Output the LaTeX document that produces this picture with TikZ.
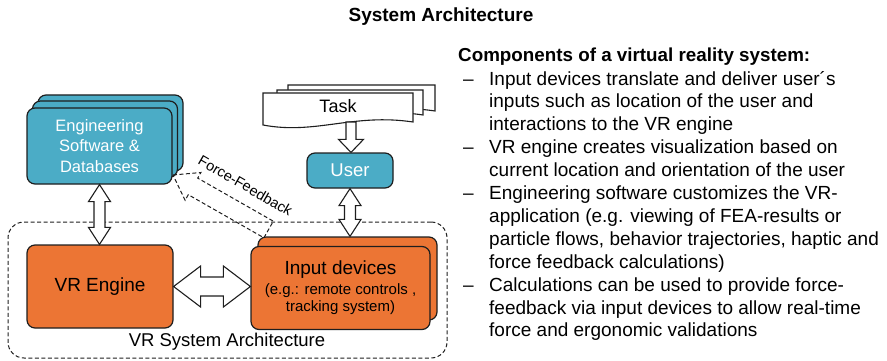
\documentclass[tikz,border=0pt]{standalone}
\usepackage{fontspec}
\setmainfont{Liberation Sans}
\usetikzlibrary{calc}
\definecolor{tealc}{RGB}{75,172,198}
\definecolor{orangec}{RGB}{236,117,52}
\definecolor{edgec}{RGB}{30,30,30}
\newcommand{\vdarrow}[5]{%
\draw[blockarrow] let \p1=(#1), \p2=(#2) in
 (\x1,\y1) -- (\x1+#3pt,\y1-#5pt) -- (\x1+#4pt,\y1-#5pt) -- (\x1+#4pt,\y2+#5pt)
 -- (\x1+#3pt,\y2+#5pt) -- (\x1,\y2) -- (\x1-#3pt,\y2+#5pt) -- (\x1-#4pt,\y2+#5pt)
 -- (\x1-#4pt,\y1-#5pt) -- (\x1-#3pt,\y1-#5pt) -- cycle;}
\newcommand{\hdarrow}[5]{%
\draw[blockarrow] let \p1=(#1), \p2=(#2) in
 (\x1,\y1) -- (\x1+#5pt,\y1+#3pt) -- (\x1+#5pt,\y1+#4pt) -- (\x2-#5pt,\y1+#4pt)
 -- (\x2-#5pt,\y1+#3pt) -- (\x2,\y1) -- (\x2-#5pt,\y1-#3pt) -- (\x2-#5pt,\y1-#4pt)
 -- (\x1+#5pt,\y1-#4pt) -- (\x1+#5pt,\y1-#3pt) -- cycle;}
\newcommand{\docshape}[4]{%
\draw[docstyle] (#1,#2) -- (#3,#2) -- (#3,#4-3)
 .. controls (#3-0.4*#3+0.4*#1,#4-12) and (#1+0.35*#3-0.35*#1,#4+10) .. (#1,#4) -- cycle;}
\newcommand{\linesblock}[1]{\renewcommand{\arraystretch}{1}\begin{tabular}[t]{@{}l@{}}#1\end{tabular}}
\begin{document}
\begin{tikzpicture}[x=1pt,y=-1pt,
  boxbase/.style={draw=edgec, line width=1.2pt, rounded corners=8pt, inner sep=0pt},
  tealbox/.style={boxbase, fill=tealc, text=white},
  orangebox/.style={boxbase, fill=orangec, text=black},
  blockarrow/.style={draw=edgec, fill=white, line width=1.1pt, line join=miter},
  docstyle/.style={draw=edgec, fill=white, line width=1.1pt},
  sysbox/.style={draw=edgec, dashed, dash pattern=on 4pt off 2.5pt, line width=1pt, rounded corners=16pt, inner sep=0pt},
  ffarrow/.style={draw=edgec, dashed, dash pattern=on 4pt off 2.5pt, line width=1pt, line join=miter},
  bodytext/.style={font=\fontsize{19}{22.9}\selectfont, inner sep=0pt, anchor=base west}]
\useasboundingbox (0,0) rectangle (887,361);

% title
\node[font=\bfseries\fontsize{19}{22}\selectfont, inner sep=0pt, anchor=base] (title) at (441,22) {System Architecture};

% system border
\node[sysbox, minimum width=439, minimum height=136] (sys) at (227.5,290) {};
\node[font=\fontsize{18.5}{20}\selectfont, inner sep=0pt] (syslabel) at (227,342) {VR System Architecture};

% engineering stack
\node[tealbox, minimum width=145, minimum height=76] (eng3) at (110.5,133) {};
\node[tealbox, minimum width=145, minimum height=76] (eng2) at (105,139) {};
\node[tealbox, minimum width=145, minimum height=76, align=center,
  font=\fontsize{16.5}{20.5}\selectfont] (eng) at (99.5,146) {Engineering\\Software \&\\Databases};

% VR engine
\node[orangebox, minimum width=146, minimum height=83, font=\fontsize{19}{22}\selectfont] (vr) at (100,286.5) {VR Engine};

% input devices stack
\node[orangebox, minimum width=179, minimum height=83] (inp2) at (347.5,278.5) {};
\node[orangebox, minimum width=179, minimum height=83, align=center, font=\fontsize{15}{17}\selectfont] (inp) at (340.5,288)
 {{\fontsize{19}{21}\selectfont Input devices}\\[3pt](e.g.: remote controls ,\\tracking system)};

% task stack
\docshape{288}{85}{435}{114}
\docshape{277}{90}{423}{118}
\docshape{263}{93}{413}{125}
\node[font=\fontsize{18}{20}\selectfont, inner sep=0pt] (task) at (338,106) {Task};
\coordinate (taskbot) at (351,122);

% user
\node[tealbox, minimum width=86, minimum height=35, font=\fontsize{18.5}{20}\selectfont] (user) at (350,170.5) {User};

% arrows
\draw[blockarrow] let \p1=(taskbot), \p2=(user.north) in
 (\x1-5pt,\y1) -- (\x1+5pt,\y1) -- (\x1+5pt,\y2+13pt) -- (\x1+12.5pt,\y2+13pt)
 -- (\x1,\y2) -- (\x1-12.5pt,\y2+13pt) -- (\x1-5pt,\y2+13pt) -- cycle;
\vdarrow{eng.south}{vr.north}{11}{5.5}{17}
\vdarrow{user.south}{inp2.north}{11}{5.5}{17}
\hdarrow{vr.east}{inp.west}{20.5}{9.5}{27}

% force feedback
\coordinate (ffTip) at (173,175);
\coordinate (ffTail) at (268.6,229.5);
\draw[ffarrow] (ffTip) -- (200.9,172.5) -- (197.7,178.1) -- (273.3,221.2) -- (263.9,237.8)
 -- (188.3,194.7) -- (185.1,200.3) -- cycle;
\node[font=\fontsize{14.5}{16}\selectfont, inner sep=0pt, rotate=-30] (fflabel) at (245.5,185.5) {Force-Feedback};

% right text
\node[font=\bfseries\fontsize{18.8}{22.9}\selectfont, inner sep=0pt, anchor=base west] (head) at (458,61.7)
 {Components of a virtual reality system:};
\node[bodytext] (d1) at (463,85) {–};
\node[bodytext] (t1) at (489,85) {\linesblock{Input devices translate and deliver user´s\\inputs such as location of the user and\\interactions to the VR engine}};
\node[bodytext] (d2) at (463,153.7) {–};
\node[bodytext] (t2) at (489,153.7) {\linesblock{VR engine creates visualization based on\\current location and orientation of the user}};
\node[bodytext] (d3) at (463,199.5) {–};
\node[bodytext] (t3) at (489,199.5) {\linesblock{Engineering software customizes the VR-\\application (e.g. viewing of FEA-results or\\particle flows, behavior trajectories, haptic and\\force feedback calculations)}};
\node[bodytext] (d4) at (463,291.1) {–};
\node[bodytext] (t4) at (489,291.1) {\linesblock{Calculations can be used to provide force-\\feedback via input devices to allow real-time\\force and ergonomic validations}};
\end{tikzpicture}
\end{document}
